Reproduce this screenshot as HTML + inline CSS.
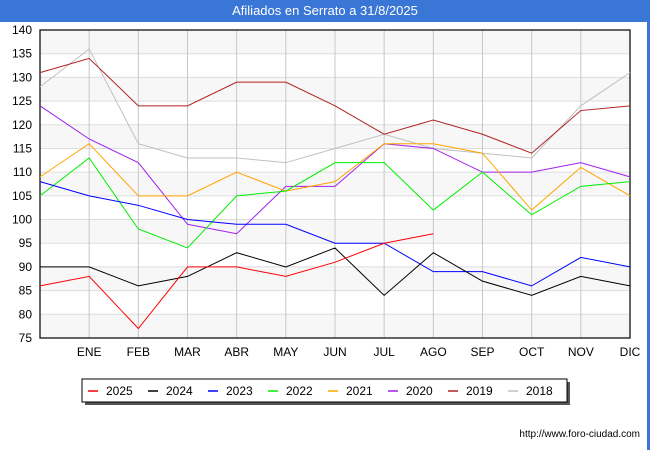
<!DOCTYPE html>
<html><head><meta charset="utf-8"><style>
body{margin:0;width:650px;height:450px;background:#fff;font-family:"Liberation Sans","DejaVu Sans",sans-serif;overflow:hidden;position:relative}
#title{position:absolute;left:0;top:0;width:650px;height:22px;background:#3a76d6;color:#fff;font-size:13px;text-align:center;line-height:22px}
#frame{position:absolute;left:0;top:22px;width:647px;height:428px;border-right:3px solid #3a76d6}
</style></head><body>
<div id="title">Afiliados en Serrato a 31/8/2025</div>
<div id="frame"></div>
<svg id="chart" width="650" height="450" style="position:absolute;left:0;top:0"></svg>
<script>
const months=["","ENE","FEB","MAR","ABR","MAY","JUN","JUL","AGO","SEP","OCT","NOV","DIC"];
const yTicks=[75,80,85,90,95,100,105,110,115,120,125,130,135,140];
const seriesNames=["2025","2024","2023","2022","2021","2020","2019","2018"];
const seriesColors=["#ff0000","#000000","#0000ff","#00ee00","#ffa500","#a020f0","#b22222","#c0c0c0"];
const s2025=[86,88,77,90,90,88,91,95,97];
const s2024=[90,90,86,88,93,90,94,84,93,87,84,88,86];
const s2023=[108,105,103,100,99,99,95,95,89,89,86,92,90];
const s2022=[105,113,98,94,105,106,112,112,102,110,101,107,108];
const s2021=[109,116,105,105,110,106,108,116,116,114,102,111,105];
const s2020=[124,117,112,99,97,107,107,116,115,110,110,112,109];
const s2019=[131,134,124,124,129,129,124,118,121,118,114,123,124];
const s2018=[128,136,116,113,113,112,115,118,115,114,113,124,131];
const allSeries=[s2025,s2024,s2023,s2022,s2021,s2020,s2019,s2018];
const L=40,R=630,T=30,B=338,ymin=75,ymax=140;
const xs=i=>L+(R-L)*i/12;
const ys=v=>B-(v-ymin)*(B-T)/(ymax-ymin);
const svg=document.getElementById('chart');
const NS="http://www.w3.org/2000/svg";
function mk(t,a){const e=document.createElementNS(NS,t);for(const k in a)e.setAttribute(k,a[k]);svg.appendChild(e);return e;}
for(let i=0;i<yTicks.length-1;i++){
 if(i%2===0){const r=mk('rect',{x:L,y:ys(yTicks[i+1]),width:R-L,height:ys(yTicks[i])-ys(yTicks[i+1]),fill:'#f7f7f7'});
 
 }
}
yTicks.forEach(v=>{const l=mk('line',{x1:L,x2:R,y1:ys(v),y2:ys(v),stroke:'#dddddd','stroke-width':1});
 
 
 const t=mk('text',{x:L-8,y:ys(v)+4,'text-anchor':'end','font-size':12,fill:'#000'});t.textContent=v;
 
 });
months.forEach((m,i)=>{if(i===0)return;
 const l=mk('line',{x1:xs(i),x2:xs(i),y1:T,y2:B,stroke:'#c8c8c8','stroke-width':1});
 
 
 const t=mk('text',{x:xs(i),y:B+18,'text-anchor':'middle','font-size':12,fill:'#000'});t.textContent=m;
 
 });
const ax=mk('rect',{x:L,y:T,width:R-L,height:B-T,fill:'none',stroke:'#000','stroke-width':1.2});


for(let k=allSeries.length-1;k>=0;k--){
 const pts=allSeries[k].map((v,i)=>xs(i)+','+ys(v)).join(' ');
 const p=mk('polyline',{points:pts,fill:'none',stroke:seriesColors[k],'stroke-width':1});
 
 
}
const lg=mk('rect',{x:85,y:382,width:485,height:23,fill:'#555'});


const lb=mk('rect',{x:82,y:379,width:485,height:23,fill:'#fff',stroke:'#000','stroke-width':1});


seriesNames.forEach((n,k)=>{const x0=88+k*60;
 const l=mk('line',{x1:x0,x2:x0+10,y1:391,y2:391,stroke:seriesColors[k],'stroke-width':1.5});
 
 
 const t=mk('text',{x:x0+18,y:395,'font-size':12,fill:'#000'});t.textContent=n;
 
 });
const u=mk('text',{x:640,y:437,'text-anchor':'end','font-size':10,fill:'#000'});u.textContent='http://www.foro-ciudad.com';


</script>
</body></html>
